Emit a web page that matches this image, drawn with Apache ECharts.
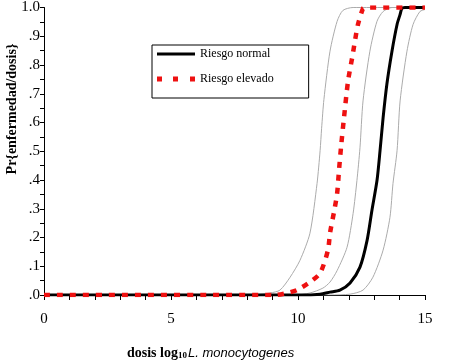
<!DOCTYPE html>
<html>
<head>
<meta charset="utf-8">
<script src="https://cdn.jsdelivr.net/npm/echarts@6/dist/echarts.min.js"></script>
<style>
html,body{margin:0;padding:0;background:#fff;}
#chart{width:450px;height:363px;}
</style>
</head>
<body>
<div id="chart"></div>
<script>
// Data
const normalX = [0, 10.08, 10.87, 11.26, 11.65, 12.05, 12.44, 12.72, 12.91, 13.11, 13.23, 13.35, 13.50, 13.70, 13.90, 14.02, 14.09, 14.21, 15];
const normalY = [0, 0, 0.003, 0.010, 0.017, 0.042, 0.097, 0.19, 0.294, 0.398, 0.502, 0.616, 0.734, 0.848, 0.941, 0.976, 0.997, 1.0, 1.0];

const elevX = [0, 9.1, 9.57, 9.96, 10.47, 10.87, 11.18, 11.26, 11.42, 11.54, 11.62, 11.70, 11.81, 11.97, 12.13, 12.24, 12.36, 12.56, 12.64, 15];
const elevY = [0, 0, 0.007, 0.017, 0.045, 0.076, 0.156, 0.215, 0.29, 0.353, 0.44, 0.52, 0.616, 0.744, 0.824, 0.882, 0.941, 0.997, 1.0, 1.0];

const bandAX = [0, 8.11, 8.9, 9.29, 9.69, 10.08, 10.47, 10.75, 10.87, 10.93, 11.02, 11.26, 11.54, 11.77, 12.17, 15];
const bandAY = [0, 0, 0.007, 0.017, 0.062, 0.121, 0.215, 0.388, 0.502, 0.58, 0.68, 0.848, 0.952, 0.99, 1, 1];

const bandBX = [0, 9.88, 10.47, 10.98, 11.26, 11.54, 11.93, 12.17, 12.32, 12.44, 12.56, 12.83, 13.11, 13.35, 13.70, 15];
const bandBY = [0, 0, 0.007, 0.024, 0.045, 0.085, 0.166, 0.284, 0.398, 0.512, 0.675, 0.848, 0.952, 0.986, 1, 1];

const bandCX = [0, 11.26, 12.05, 12.56, 12.95, 13.35, 13.62, 13.74, 13.9, 14.02, 14.29, 14.53, 14.8, 15];
const bandCY = [0, 0, 0.003, 0.017, 0.062, 0.156, 0.27, 0.388, 0.502, 0.675, 0.848, 0.941, 0.986, 0.993];

const seriesNames = ['Riesgo normal', 'Riesgo elevado'];
const yTitle = 'Pr{enfermedad/dosis}';

function zip(xs, ys) { return xs.map((x, i) => [x, ys[i]]); }

const serif = 'Liberation Serif, Times New Roman, serif';
const gray = {
  type: 'line', showSymbol: false, smooth: 0.25, silent: true,
  lineStyle: { color: '#ababab', width: 1 }, z: 1
};

const chart = echarts.init(document.getElementById('chart'));
chart.setOption({
  animation: false,
  backgroundColor: '#fff',
  grid: { left: 44, right: 25, top: 6, bottom: 68 },
  xAxis: {
    type: 'value', min: 0, max: 15, interval: 1,
    axisLine: { lineStyle: { color: '#000', width: 1 } },
    axisTick: { show: true, length: 5, lineStyle: { color: '#000' } },
    splitLine: { show: false },
    axisLabel: {
      margin: 17, color: '#000', fontFamily: serif, fontSize: 15,
      formatter: v => (Math.round(v) % 5 === 0 ? String(Math.round(v)) : '')
    }
  },
  yAxis: {
    type: 'value', min: 0, max: 1, interval: 0.05,
    axisLine: { show: true, lineStyle: { color: '#000', width: 1 } },
    axisTick: { show: true, length: 4, lineStyle: { color: '#000' } },
    splitLine: { show: false },
    axisLabel: {
      margin: 4, color: '#000', fontFamily: serif, fontSize: 15,
      formatter: v => {
        const k = Math.round(v * 20);
        if (k % 2) return '';
        if (k === 20) return '1.0';
        return '.' + (k / 2);
      }
    }
  },
  legend: {
    left: 152, top: 45, orient: 'vertical',
    borderColor: '#000', borderWidth: 1, borderRadius: 0,
    padding: [3, 35, 13, 5],
    itemWidth: 38, itemHeight: 14, itemGap: 13,
    textStyle: { fontFamily: serif, fontSize: 12, color: '#000' },
    data: [
      { name: seriesNames[0], icon: 'path://M0,6 L38,6 L38,9 L0,9 Z', itemStyle: { color: '#000' } },
      { name: seriesNames[1], icon: 'path://M0,5 L5,5 L5,10 L0,10 Z M16,5 L21,5 L21,10 L16,10 Z M33,5 L38,5 L38,10 L33,10 Z', itemStyle: { color: '#ee1111' } }
    ]
  },
  graphic: [
    {
      type: 'text', x: 12, y: 109, rotation: Math.PI / 2,
      style: {
        text: yTitle, fontFamily: serif, fontWeight: 'bold', fontSize: 14,
        fill: '#000', align: 'center', verticalAlign: 'middle'
      }
    },
    {
      type: 'text', x: 127, y: 353,
      style: {
        text: '{b|dosis log}{s|10}{i|L. monocytogenes}',
        verticalAlign: 'middle',
        rich: {
          b: { fontFamily: serif, fontWeight: 'bold', fontSize: 14, fill: '#000' },
          s: { fontFamily: serif, fontWeight: 'bold', fontSize: 9, fill: '#000', padding: [5, 1, 0, 0] },
          i: { fontFamily: 'Liberation Sans Narrow, Liberation Sans, Arial, sans-serif', fontStyle: 'italic', fontSize: 13, fill: '#000' }
        }
      }
    }
  ],
  series: [
    Object.assign({}, gray, { data: zip(bandAX, bandAY) }),
    Object.assign({}, gray, { data: zip(bandBX, bandBY) }),
    Object.assign({}, gray, { data: zip(bandCX, bandCY) }),
    {
      name: seriesNames[0], type: 'line', showSymbol: false, smooth: 0.25,
      data: zip(normalX, normalY), z: 3,
      itemStyle: { color: '#000' },
      lineStyle: { color: '#000', width: 3 }
    },
    {
      name: seriesNames[1], type: 'line', showSymbol: false, smooth: 0.25,
      data: zip(elevX, elevY), z: 4,
      itemStyle: { color: '#ee1111' },
      lineStyle: { color: '#ee1111', width: 4.5, type: [6, 7] }
    }
  ]
});
</script>
</body>
</html>
